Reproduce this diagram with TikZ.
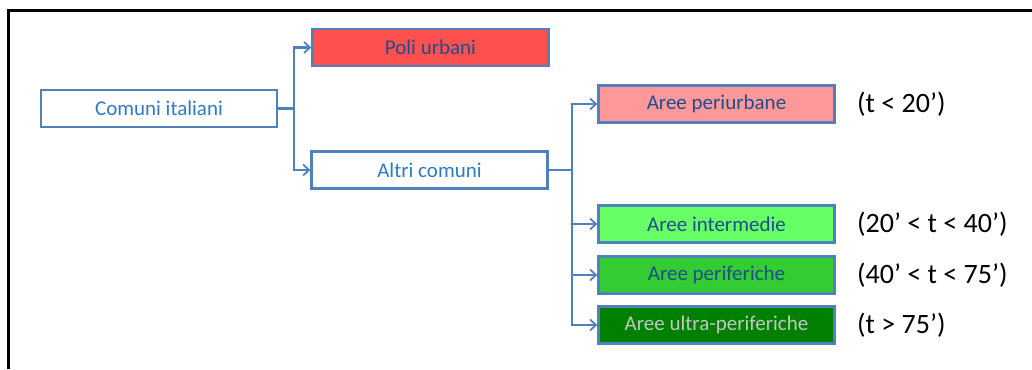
\documentclass[tikz,border=0pt]{standalone}
\usepackage{fontspec}
\setmainfont{Carlito}
\usepackage{tikz}
\usetikzlibrary{arrows.meta}

\definecolor{boxline}{HTML}{4F81BD}
\definecolor{lightblue}{HTML}{2F7BC4}
\definecolor{darkblue}{HTML}{1F4E8C}
\definecolor{paletext}{HTML}{C0C8C0}
\definecolor{poli}{HTML}{FF5050}
\definecolor{periurb}{HTML}{FF9999}
\definecolor{interm}{HTML}{66FF66}
\definecolor{perif}{HTML}{33CC33}
\definecolor{ultra}{HTML}{008000}

\begin{document}
\begin{tikzpicture}[x=1pt,y=-1pt]
    % `area' is used for every box of the tree.
    % `timelabel' is used for the travel-time labels on the right.
    % `link' is used for the connectors, `frame' for the outer border.
    \tikzstyle{area} = [draw=boxline,line width=2.3pt,fill=white,minimum width=236pt,minimum height=37pt,inner sep=0pt,font=\fontsize{21}{25}\selectfont,text=darkblue]
    \tikzstyle{timelabel} = [anchor=west,inner sep=0pt,font=\fontsize{28}{32}\selectfont]
    \tikzstyle{link} = [draw=boxline,line width=2.2pt]
    \tikzstyle{linkarrow} = [link,-{Straight Barb[length=6pt,width=11pt,line width=1.8pt]}]
    \tikzstyle{frame} = [line width=3pt,black]
    \useasboundingbox (0,0) rectangle (1032,369);
    % Outer border (only top and left are visible).
    \draw[frame] (1032,11) -- (8,11) -- (8,369);
    %
    \node[area,text=lightblue] (comuni) at (159,108.5) {Comuni italiani};
    \node[area,fill=poli] (poli) at (430.5,47.5) {Poli urbani};
    \node[area,text=lightblue] (altri) at (429.5,170) {Altri comuni};
    \node[area,fill=periurb] (periurbane) at (716.5,104) {Aree periurbane};
    \node[area,fill=interm] (intermedie) at (716.5,224) {Aree intermedie};
    \node[area,fill=perif] (periferiche) at (716.5,275) {Aree periferiche};
    \node[area,fill=ultra,text=paletext] (ultraperif) at (716.5,325) {Aree ultra-periferiche};
    %
    \node[timelabel] (t1) at (857,104) {(t < 20’)};
    \node[timelabel] (t2) at (857,224) {(20’ < t < 40’)};
    \node[timelabel] (t3) at (857,275) {(40’ < t < 75’)};
    \node[timelabel] (t4) at (857,325) {(t > 75’)};
    %
    \coordinate (fork1) at (294,108.5);
    \coordinate (fork2) at (572,170);
    % Draw lines.
    \draw[link] (comuni.east) -- (fork1);
    \draw[linkarrow] (fork1) |- (poli.west);
    \draw[linkarrow] (fork1) |- (altri.west);
    \draw[link] (altri.east) -- (fork2);
    \draw[linkarrow] (fork2) |- (periurbane.west);
    \draw[linkarrow] (fork2) |- (intermedie.west);
    \draw[linkarrow] (fork2) |- (periferiche.west);
    \draw[linkarrow] (fork2) |- (ultraperif.west);
\end{tikzpicture}
\end{document}
